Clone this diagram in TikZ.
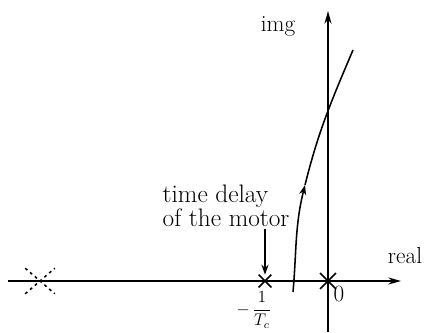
\documentclass[tikz,border=0pt]{standalone}
\usetikzlibrary{arrows.meta, positioning, shapes.misc}
\begin{document}
\begin{tikzpicture}[
  x=0.025cm, y=0.025cm,
  lbl/.style={font=\fontsize{16.5}{17}\selectfont, inner sep=1pt},
  pole/.style={cross out, draw, line width=1.1pt, minimum size=0.28cm, inner sep=0pt},
  axis/.style={-{Stealth[length=9pt, width=5pt]}, line width=1.2pt},
  arr/.style={-{Stealth[length=7pt, width=5pt]}, line width=1.1pt}
]
  \useasboundingbox (0,0) rectangle (425,332);
  % axes
  \coordinate (reW) at (8,51);
  \coordinate (reE) at (401,51);
  \coordinate (imS) at (328,0);
  \coordinate (imN) at (328,321);
  \draw[axis] (reW) -- (reE);
  \draw[axis] (imS) -- (imN);
  \node[lbl] (real) at (405,76) {real};
  \node[lbl] (img)  at (278,306) {img};
  % poles
  \node[pole, minimum size=0.36cm] (p0) at (328,51) {};
  \node[pole] (pm) at (265,51) {};
  \node[pole, dash pattern=on 2pt off 2.5pt, minimum width=0.7cm, minimum height=0.6cm] (pf) at (40,51) {};
  \node[lbl, anchor=north west] (zero) at (332,48) {0};
  \node[lbl, font=\fontsize{12}{13}\selectfont] (tc) at (254,22) {$-\,\displaystyle\frac{1}{T_c}$};
  % annotation
  \node[lbl, font=\fontsize{18}{17}\selectfont, align=left, anchor=west] (delay) at (161,126) {time delay\\of the motor};
  \draw[arr] (delay.south -| pm) -- (pm);
  % root locus branch
  \coordinate (c0) at (293,40);
  \coordinate (c1) at (305,147);
  \coordinate (c2) at (353,282);
  \draw[arr] (c0) to[out=85, in=256] (c1);
  \draw[line width=1.1pt] (c1) to[out=76, in=247] (c2);
\end{tikzpicture}
\end{document}
